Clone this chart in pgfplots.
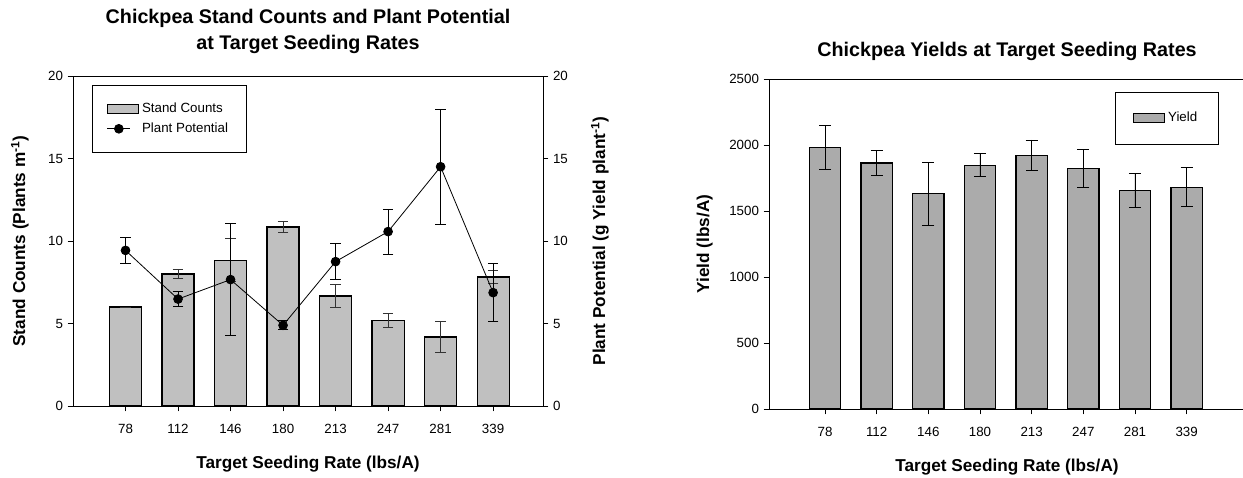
\documentclass[border=0pt]{standalone}
\usepackage{fontspec}
\setmainfont{Liberation Sans}
\usepackage{pgfplots}
\usepackage{pgfplotstable}
\pgfplotsset{compat=1.18}
\definecolor{barL}{HTML}{C0C0C0}
\definecolor{barR}{HTML}{ABABAB}
\pgfplotstableread{
x y e
0 6.00 0
1 8.00 0.25
2 8.83 1.30
3 10.85 0.32
4 6.67 0.68
5 5.17 0.41
6 4.18 0.92
7 7.82 0.40
}\stand
\pgfplotstableread{
x y e
0 9.43 0.80
1 6.48 0.44
2 7.66 3.40
3 4.89 0.27
4 8.75 1.10
5 10.57 1.37
6 14.50 3.50
7 6.87 1.77
}\potential
\pgfplotstableread{
x y e
0 1980 168
1 1864 98
2 1632 238
3 1847 88
4 1922 116
5 1824 143
6 1655 128
7 1680 148
}\yield
\pgfplotsset{
  every axis title shift=0pt,
  base/.style={
    scale only axis,
    anchor=south west,
    height=247.5pt,
    ymin=0,
    axis line style={line width=0.6pt},
    tick style={line width=0.6pt, black},
    major tick length=4pt,
    tick align=outside,
    /pgf/number format/assume math mode=true,
    /pgf/number format/1000 sep={},
    tick label style={font=\fontsize{10}{12}\selectfont},
    label style={font=\bfseries\fontsize{12.9}{15}\selectfont},
    xtick={0,...,7},
    xticklabels={78,112,146,180,213,247,281,339},
    xticklabel style={yshift=-6pt},
    xlabel style={at={(axis description cs:0.5,-0.176)}, anchor=center},
  },
  barlegend/.style={legend image code/.code={\draw[##1] (0pt,-3.4pt) rectangle (23pt,3.4pt);}},
}
\begin{document}
\begin{tikzpicture}
\useasboundingbox (0,0) rectangle (932.25pt,358.5pt);
% ---------- left chart: stand counts ----------
\begin{axis}[base,
  at={(54.75pt,54pt)}, width=352.5pt,
  xmin=-1, xmax=7.95, ymax=20,
  ytick={0,5,...,20},
  xtick pos=bottom, ytick pos=left,
  xlabel={Target Seeding Rate (lbs/A)},
  ylabel={Stand Counts (Plants m\textsuperscript{-1})},
  ylabel style={at={(axis description cs:-0.113,0.5)}, anchor=center},
  title={Chickpea Stand Counts and Plant Potential\\at Target Seeding Rates},
  title style={at={(axis description cs:0.5,1.136)}, anchor=center, align=center,
    font=\bfseries\fontsize{14.8}{19.5}\selectfont},
]
\addplot[ybar, bar width=0.61, fill=barL, draw=black, line width=0.9pt,
  error bars/.cd, y dir=both, y explicit,
  error bar style={black!80, line width=0.7pt},
  error mark options={rotate=90, mark size=4pt, black!80, line width=0.7pt}]
  table[x=x, y=y, y error=e] {\stand};
\end{axis}
% ---------- left chart: plant potential (right axis) ----------
\begin{axis}[base,
  at={(54.75pt,54pt)}, width=352.5pt,
  xmin=-1, xmax=7.95, ymax=20,
  ytick={0,5,...,20},
  axis x line=none,
  axis y line*=right,
  ylabel={Plant Potential (g Yield plant\textsuperscript{-1})},
  ylabel style={at={(axis description cs:1.121,0.5)}, anchor=center},
  legend cell align=left,
  legend style={at={(axis description cs:0.040,0.973)}, anchor=north west,
    draw=black, line width=0.6pt, inner xsep=11pt, inner ysep=11pt,
    font=\fontsize{10}{12}\selectfont, row sep=1pt,
    nodes={inner sep=2.5pt},
    /tikz/every even column/.append style={column sep=3pt}},
]
\addlegendimage{barlegend, fill=barL, draw=black, line width=0.9pt}
\addlegendentry{Stand Counts}
\addplot[black, line width=0.6pt, mark=*, mark size=3.3pt,
  error bars/.cd, y dir=both, y explicit,
  error bar style={black, line width=0.7pt},
  error mark options={rotate=90, mark size=4pt, black, line width=0.7pt}]
  table[x=x, y=y, y error=e] {\potential};
\addlegendentry{Plant Potential}
\end{axis}
% ---------- right chart: yield ----------
\begin{axis}[base,
  at={(576.75pt,51.75pt)}, width=357pt,
  xmin=-1.084, xmax=8.13, ymax=2500,
  ytick={0,500,...,2500},
  xtick pos=bottom, ytick pos=left,
  xlabel={Target Seeding Rate (lbs/A)},
  ylabel={Yield (lbs/A)},
  ylabel style={at={(axis description cs:-0.135,0.5)}, anchor=center},
  title={Chickpea Yields at Target Seeding Rates},
  title style={at={(axis description cs:0.5,1.085)}, anchor=center,
    font=\bfseries\fontsize{14.8}{19.5}\selectfont},
  legend style={at={(axis description cs:0.944,0.961)}, anchor=north east,
    draw=black, line width=0.6pt, inner xsep=13pt, inner ysep=12.5pt,
    font=\fontsize{10}{12}\selectfont, nodes={inner sep=2.5pt},
    /tikz/every even column/.append style={column sep=3pt}},
]
\addplot[ybar, bar width=0.606, fill=barR, draw=black, line width=0.9pt, barlegend,
  error bars/.cd, y dir=both, y explicit,
  error bar style={black, line width=0.7pt},
  error mark options={rotate=90, mark size=4.5pt, black, line width=0.7pt}]
  table[x=x, y=y, y error=e] {\yield};
\addlegendentry{Yield}
\end{axis}
\end{tikzpicture}
\end{document}
